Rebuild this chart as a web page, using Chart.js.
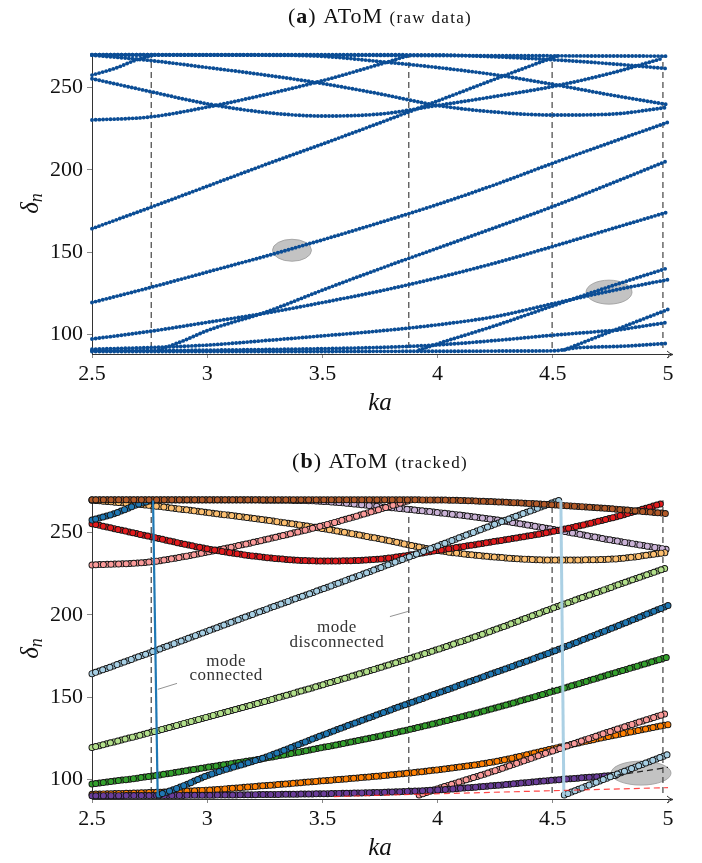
<!DOCTYPE html>
<html>
<head>
<meta charset="utf-8">
<script src="https://cdn.jsdelivr.net/npm/chart.js@4.4.1/dist/chart.umd.min.js"></script>
<style>
html,body{margin:0;padding:0;background:#fff;overflow:hidden}
body{width:702px;height:863px;position:relative}
.box{position:absolute;left:0;width:702px;height:430px}
</style>
</head>
<body>
<div class="box" style="top:0"><canvas id="rawChart"></canvas></div>
<div class="box" style="top:445px"><canvas id="trackChart"></canvas></div>
<script>
var SERIF = '"Liberation Serif", "DejaVu Serif", serif'

// axes
const xTicks = [2.5, 3, 3.5, 4, 4.5, 5]
const yTicks = [100, 150, 200, 250]
const kaMin = 2.5, kaMax = 5
const dMin = 88.3, dMax = 270.8

// modes that run over the whole ka range
const kaGrid      = [2.5, 2.75, 3, 3.25, 3.5, 3.75, 4, 4.25, 4.5, 4.75, 5]
const brown       = [269.7, 269.7, 269.7, 269.7, 269.7, 269.7, 269.6, 268.5, 266.7, 264.3, 261.3]
const lightPurple = [269.6, 269.6, 269.6, 269.5, 268.8, 265.6, 262, 257.6, 251.8, 245.4, 239.5]
const lightOrange = [269.5, 266.3, 262, 257.5, 252.3, 246, 239, 235, 233.2, 233.7, 237.9]
const lightGreen  = [119.5, 128.5, 138, 147.5, 157.5, 168, 179, 191, 204, 216.5, 228.8]
const darkGreen   = [97.4, 102, 107.5, 113, 119.5, 126.5, 134.5, 143.5, 153.5, 164, 174.4]
const orange      = [91.2, 92.2, 93.7, 96.4, 99.3, 102.3, 106, 111, 118.8, 126.5, 133.4]

// modes that stop or jump
const redKa      = [2.5, 2.75, 3, 3.25, 3.5, 3.75, 4, 4.25, 4.5, 4.75, 4.98]
const red        = [255.2, 247.5, 240, 234.8, 232.6, 233.8, 239, 244.5, 250.5, 258.5, 267.7]
const pinkUpKa   = [2.5, 2.75, 3, 3.25, 3.5, 3.75, 3.88]
const pinkUp     = [230.2, 232, 238, 245.5, 254, 264, 269.5]
const pinkLowKa  = [3.92, 4, 4.25, 4.5, 4.75, 5]
const pinkLow    = [90.7, 94.5, 105.5, 117.5, 129.3, 140.5]
const blueUpKa   = [2.5, 2.6, 2.7, 2.76]
const blueUp     = [257.4, 261.5, 267, 269.3]
const blueLowKa  = [2.79, 2.9, 3, 3.25, 3.5, 3.75, 4, 4.25, 4.5, 4.75, 5]
const blueLow    = [90.8, 96.5, 102.5, 113.5, 127, 140, 152.5, 165, 177.7, 191.5, 205.6]
const skyUpKa    = [2.5, 2.75, 3, 3.25, 3.5, 3.75, 4, 4.25, 4.5, 4.53]
const skyUp      = [164.3, 177, 190, 203, 215.6, 228.5, 241.7, 255, 268, 269.5]
const skyLowKa   = [4.55, 4.75, 5]
const skyLow     = [90.8, 101.8, 115.3]
const purpleKa   = [2.5, 2.75, 3, 3.25, 3.5, 3.75, 4, 4.25, 4.5, 4.78]
const purple     = [90.3, 90.4, 90.6, 91, 91.5, 92.3, 93.8, 96.5, 99.7, 102.8]
const purpleTailKa = [4.78, 5]
const purpleTail   = [102.8, 107.5]

// only in the raw data
const rawTopKa = [2.5, 5]
const rawTop   = [269.8, 268.9]
const rawLowKa = [2.5, 4.5, 4.6, 4.8, 5]
const rawLow   = [89.8, 90.2, 92, 93, 94.8]

// tracking marks
const cutKa = [2.757, 3.875, 4.497, 4.978]
const cutLo = 92, cutHi = 269.5
const blueJumpKa = [2.765, 2.785]
const blueJump   = [269.3, 90.8]
const skyJumpKa  = [4.535, 4.548]
const skyJump    = [269.5, 90.8]
const redDashKa  = [3.55, 5]
const redDash    = [89.8, 95.2]

const modes = [
    [kaGrid, lightPurple, '#cab2d6'],
    [kaGrid, lightOrange, '#fdbf6f'],
    [pinkUpKa, pinkUp, '#fb9a99'],
    [redKa, red, '#e31a1c'],
    [skyUpKa, skyUp, '#a6cee3'],
    [blueUpKa, blueUp, '#1f78b4'],
    [kaGrid, brown, '#b15928'],
    [kaGrid, lightGreen, '#b2df8a'],
    [kaGrid, darkGreen, '#33a02c'],
    [kaGrid, orange, '#ff7f00'],
    [pinkLowKa, pinkLow, '#fb9a99'],
    [purpleKa, purple, '#6a3d9a'],
    [blueLowKa, blueLow, '#1f78b4'],
    [skyLowKa, skyLow, '#a6cee3']
]

function pts(xs, ys){
    return xs.map((x, i) => ({x: x, y: ys[i]}))
}

function lineSet(xs, ys, color, width, dash){
    return {data: pts(xs, ys), showLine: true, borderColor: color, borderWidth: width,
        borderDash: dash || [], pointRadius: 0, fill: false, clip: 8}
}

// dotted line: round caps on zero length dashes give the markers
function rawSet(xs, ys){
    const d = lineSet(xs, ys, '#0b4d95', 3.9, [0, 3.7])
    d.borderCapStyle = 'round'
    d.cubicInterpolationMode = 'monotone'
    return d
}

function trackSet(xs, ys, color){
    const out = []
    ;[0, 3.8].forEach(off => {
        [['#151515', 7], [color, 5.1]].forEach(s => {
            const d = lineSet(xs, ys, s[0], s[1], [0, 7.6])
            d.borderDashOffset = off
            d.borderCapStyle = 'round'
            d.cubicInterpolationMode = 'monotone'
            out.push(d)
        })
    })
    return out
}

function cutSets(){
    return cutKa.map(k => lineSet([k, k], [cutLo, cutHi], '#333', 1.1, [6, 4]))
}

const titlePlugin = {
    id: 'texTitle',
    afterDraw(chart, args, opts){
        const ctx = chart.ctx
        ctx.save()
        let total = 0
        opts.parts.forEach(p => {
            ctx.font = p.font
            ctx.letterSpacing = p.sp || '0px'
            p.w = ctx.measureText(p.text).width
            total += p.w
        })
        let x = (chart.chartArea.left + chart.chartArea.right) / 2 - total / 2
        ctx.fillStyle = '#111'
        ctx.textBaseline = 'alphabetic'
        opts.parts.forEach(p => {
            ctx.font = p.font
            ctx.letterSpacing = p.sp || '0px'
            ctx.fillText(p.text, x, opts.y)
            x += p.w
        })
        ctx.restore()

        // y axis label, delta with subscript n
        const cy = (chart.chartArea.top + chart.chartArea.bottom) / 2
        ctx.save()
        ctx.translate(31, cy)
        ctx.rotate(-Math.PI / 2)
        ctx.fillStyle = '#111'
        ctx.textBaseline = 'alphabetic'
        ctx.font = 'italic 25px ' + SERIF
        const w1 = ctx.measureText('δ').width
        ctx.font = 'italic 18px ' + SERIF
        const w2 = ctx.measureText('n').width
        ctx.font = 'italic 25px ' + SERIF
        ctx.fillText('δ', -(w1 + w2) / 2, 7)
        ctx.font = 'italic 18px ' + SERIF
        ctx.fillText('n', -(w1 + w2) / 2 + w1, 11)
        ctx.restore()
    }
}

const arrowPlugin = {
    id: 'xArrow',
    afterDraw(chart){
        const ctx = chart.ctx, a = chart.chartArea
        const y = a.bottom + 0.5
        ctx.save()
        ctx.strokeStyle = '#333'
        ctx.lineWidth = 1
        ctx.beginPath()
        ctx.moveTo(a.right, y); ctx.lineTo(a.right + 5, y)
        ctx.moveTo(a.right - 1, y - 3.5); ctx.quadraticCurveTo(a.right + 2, y - 0.5, a.right + 5, y)
        ctx.moveTo(a.right - 1, y + 3.5); ctx.quadraticCurveTo(a.right + 2, y + 0.5, a.right + 5, y)
        ctx.stroke()
        ctx.restore()
    }
}

const notesPlugin = {
    id: 'notes',
    beforeDatasetsDraw(chart, args, opts){
        const ctx = chart.ctx, sx = chart.scales.x, sy = chart.scales.y
        ctx.save()
        ;(opts.ellipses || []).forEach(e => {
            ctx.beginPath()
            ctx.ellipse(sx.getPixelForValue(e.ka), sy.getPixelForValue(e.d), e.w / 2, e.h / 2, 0, 0, Math.PI * 2)
            ctx.fillStyle = '#c3c3c3'
            ctx.fill()
            ctx.strokeStyle = '#9a9a9a'
            ctx.lineWidth = 0.8
            ctx.stroke()
        })
        ctx.restore()
    },
    afterDatasetsDraw(chart, args, opts){
        const ctx = chart.ctx, sx = chart.scales.x, sy = chart.scales.y
        ctx.save()
        ctx.strokeStyle = '#777'
        ctx.lineWidth = 0.8
        ;(opts.callouts || []).forEach(c => {
            ctx.beginPath()
            ctx.moveTo(sx.getPixelForValue(c[0]), sy.getPixelForValue(c[1]))
            ctx.lineTo(sx.getPixelForValue(c[2]), sy.getPixelForValue(c[3]))
            ctx.stroke()
        })
        ctx.fillStyle = '#333'
        ctx.font = '17px ' + SERIF
        ctx.letterSpacing = '0.5px'
        ctx.textAlign = 'center'
        ctx.textBaseline = 'middle'
        ;(opts.texts || []).forEach(t => {
            ctx.fillText(t.text, sx.getPixelForValue(t.ka), sy.getPixelForValue(t.d))
        })
        ctx.restore()
    }
}

function makeOptions(title, notes){
    return {
        responsive: true,
        maintainAspectRatio: false,
        animation: false,
        events: [],
        layout: {padding: {left: 0, right: 34, top: 53, bottom: 0}},
        plugins: {
            legend: {display: false},
            tooltip: {enabled: false},
            texTitle: {y: 23, parts: title},
            notes: notes
        },
        scales: {
            x: {
                type: 'linear', min: kaMin, max: kaMax,
                afterBuildTicks: s => { s.ticks = xTicks.map(v => ({value: v})) },
                afterFit: s => { s.height = 76 },
                ticks: {color: '#111', font: {family: SERIF, size: 22}, padding: 3, maxRotation: 0,
                    callback: v => String(v)},
                grid: {drawOnChartArea: false, tickLength: 4, color: '#888'},
                border: {color: '#333', width: 1},
                title: {display: true, text: 'ka', color: '#111',
                    font: {family: SERIF, size: 25, style: 'italic'}, padding: {top: 12, bottom: 12}}
            },
            y: {
                type: 'linear', min: dMin, max: dMax,
                afterBuildTicks: s => { s.ticks = yTicks.map(v => ({value: v})) },
                afterFit: s => { s.width = 92 },
                ticks: {color: '#111', font: {family: SERIF, size: 22}, padding: 4,
                    callback: v => String(v)},
                grid: {drawOnChartArea: false, tickLength: 5, color: '#888'},
                border: {color: '#333', width: 1},
                title: {display: false}
            }
        }
    }
}

function ordered(sets){
    sets.forEach((d, i) => { d.order = -i })
    return sets
}

function titleParts(letter, note){
    return [
        {text: '(', font: '22px ' + SERIF, sp: '1px'},
        {text: letter, font: 'bold 22px ' + SERIF, sp: '1px'},
        {text: ') AToM ', font: '22px ' + SERIF, sp: '1px'},
        {text: note, font: '17px ' + SERIF, sp: '1.3px'}
    ]
}

// (a) raw data
var rawSets = cutSets()
modes.forEach(m => rawSets.push(rawSet(m[0], m[1])))
rawSets.push(rawSet(rawTopKa, rawTop))
rawSets.push(rawSet(rawLowKa, rawLow))
rawSets.push(rawSet(purpleTailKa, purpleTail))

new Chart(document.getElementById('rawChart'), {
    type: 'scatter',
    data: {datasets: ordered(rawSets)},
    options: makeOptions(titleParts('a', '(raw data)'), {
        ellipses: [{ka: 3.368, d: 151.2, w: 39, h: 22}, {ka: 4.744, d: 125.8, w: 46, h: 24}]
    }),
    plugins: [titlePlugin, arrowPlugin, notesPlugin]
})

// (b) tracked
var trackSets = cutSets()
modes.forEach(m => { trackSets = trackSets.concat(trackSet(m[0], m[1], m[2])) })
trackSets.push(lineSet(blueJumpKa, blueJump, '#1f78b4', 2.2))
trackSets.push(lineSet(skyJumpKa, skyJump, 'rgba(166,206,227,0.95)', 3))
trackSets.push(lineSet(redDashKa, redDash, 'rgba(255,40,40,0.85)', 1.2, [6, 4]))
trackSets.push(lineSet(purpleTailKa, purpleTail, '#222', 1.2, [6, 4]))

new Chart(document.getElementById('trackChart'), {
    type: 'scatter',
    data: {datasets: ordered(trackSets)},
    options: makeOptions(titleParts('b', '(tracked)'), {
        ellipses: [{ka: 4.883, d: 104, w: 60, h: 24}],
        callouts: [[2.786, 154.8, 2.869, 158.4], [3.793, 198.9, 3.871, 202]],
        texts: [
            {text: 'mode', ka: 3.082, d: 171.7},
            {text: 'connected', ka: 3.082, d: 163.3},
            {text: 'mode', ka: 3.563, d: 192.3},
            {text: 'disconnected', ka: 3.563, d: 183.2}
        ]
    }),
    plugins: [titlePlugin, arrowPlugin, notesPlugin]
})
</script>
</body>
</html>
